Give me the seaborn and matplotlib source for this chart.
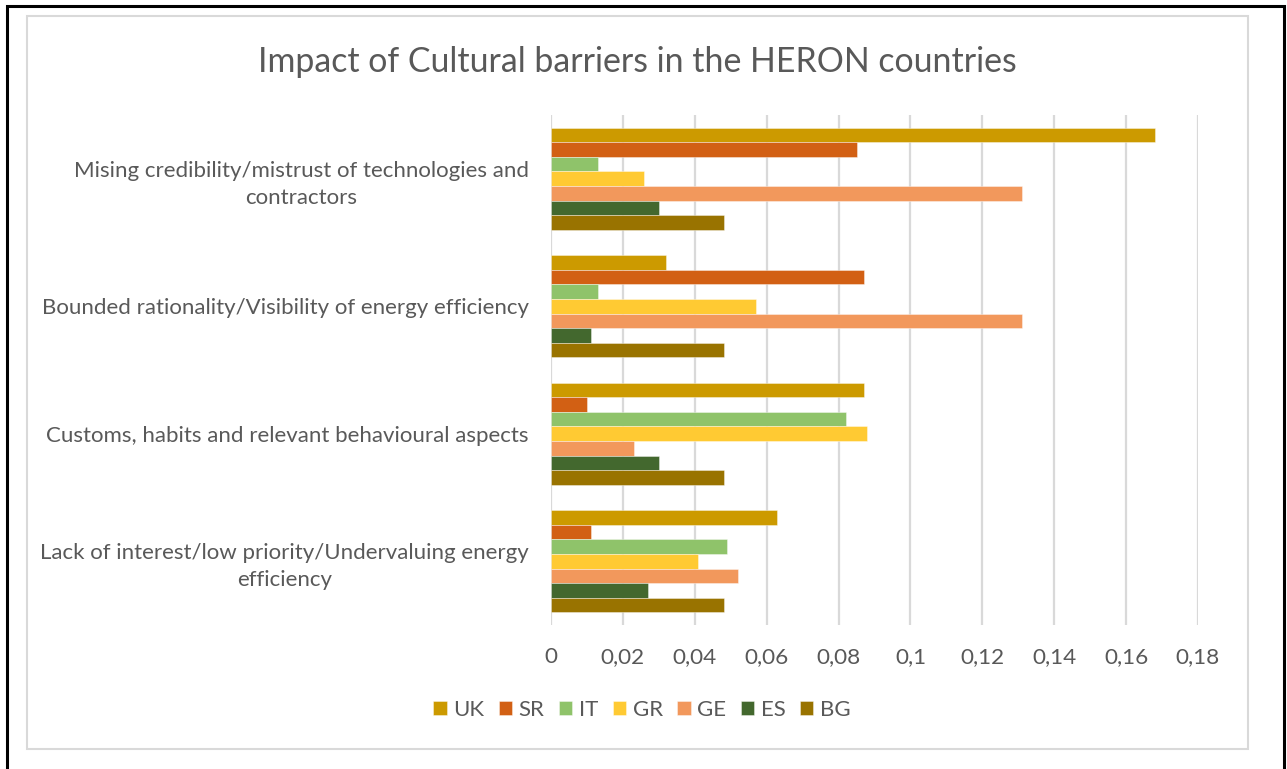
import matplotlib
matplotlib.use("Agg")
import matplotlib.pyplot as plt
import seaborn as sns
import pandas as pd
from matplotlib.patches import Rectangle
from matplotlib.ticker import FixedLocator, FuncFormatter

categories = [
    "Mising credibility/mistrust of technologies and\ncontractors",
    "Bounded rationality/Visibility of energy efficiency",
    "Customs, habits and relevant behavioural aspects",
    "Lack of interest/low priority/Undervaluing energy\nefficiency",
]
countries = ["UK", "SR", "IT", "GR", "GE", "ES", "BG"]
uk = [0.168, 0.032, 0.087, 0.063]
sr = [0.085, 0.087, 0.010, 0.011]
it = [0.013, 0.013, 0.082, 0.049]
gr = [0.026, 0.057, 0.088, 0.041]
ge = [0.131, 0.131, 0.023, 0.052]
es = [0.030, 0.011, 0.030, 0.027]
bg = [0.048, 0.048, 0.048, 0.048]
xticks = [0, 0.02, 0.04, 0.06, 0.08, 0.1, 0.12, 0.14, 0.16, 0.18]
title = "Impact of Cultural barriers in the HERON countries"

colors = ["#CC9A00", "#D26014", "#8FC36A", "#FFCA33", "#F2985C", "#43682E", "#997300"]

series = [uk, sr, it, gr, ge, es, bg]
rows = []
for c, vals in zip(countries, series):
    for cat, v in zip(categories, vals):
        rows.append({"category": cat, "country": c, "value": v})
df = pd.DataFrame(rows)

sns.set_theme(style="white")
plt.rcParams["font.family"] = ["Lato", "DejaVu Sans"]
text_color = "#595959"

fig = plt.figure(figsize=(12.87, 7.69), dpi=100)
ax = fig.add_axes([551 / 1287, 1 - 625 / 769, (1198 - 551) / 1287, (625 - 115) / 769])

sns.barplot(
    data=df, y="category", x="value", hue="country",
    order=categories, hue_order=countries,
    palette=dict(zip(countries, colors)), saturation=1,
    orient="h", width=0.8, ax=ax,
    edgecolor=(1, 1, 1, 0.45), linewidth=0.6,
)

ax.set_xlim(0, 0.18)
ax.xaxis.set_major_locator(FixedLocator(xticks))
ax.xaxis.set_major_formatter(FuncFormatter(lambda v, p: f"{v:g}".replace(".", ",")))
ax.grid(axis="x", color="#D9D9D9", linewidth=1.6)
ax.set_axisbelow(True)
for s in ax.spines.values():
    s.set_visible(False)
ax.set_xlabel("")
ax.set_ylabel("")
ax.tick_params(axis="both", length=0, colors=text_color)
ax.tick_params(axis="x", pad=16, labelsize=16.2)
ax.tick_params(axis="y", pad=16, labelsize=16)
for lbl in ax.get_yticklabels():
    lbl.set_multialignment("center")
    lbl.set_linespacing(1.45)

leg = ax.get_legend()
handles, labels = ax.get_legend_handles_labels()
leg.remove()
fig.legend(handles, labels, loc="center", bbox_to_anchor=(642 / 1287, 1 - 710 / 769),
           ncol=7, frameon=False, fontsize=16, labelcolor=text_color,
           handlelength=0.6, handleheight=0.6, handletextpad=0.3, columnspacing=0.65)

fig.text(637 / 1287, 1 - 62 / 769, title, ha="center", va="center",
         fontsize=24.4, color=text_color)

fig.patches.append(Rectangle((27 / 1287, 1 - 749 / 769), (1248 - 27) / 1287, (749 - 16) / 769,
                             transform=fig.transFigure, fill=False, edgecolor="#D9D9D9",
                             linewidth=1.5))
fig.patches.append(Rectangle((6.5 / 1287, -0.05), (1284 - 6.5) / 1287, 1.05 - 5.5 / 769,
                             transform=fig.transFigure, fill=False, edgecolor="black",
                             linewidth=2.2))

fig.savefig("out.png", dpi=100, facecolor="white")
